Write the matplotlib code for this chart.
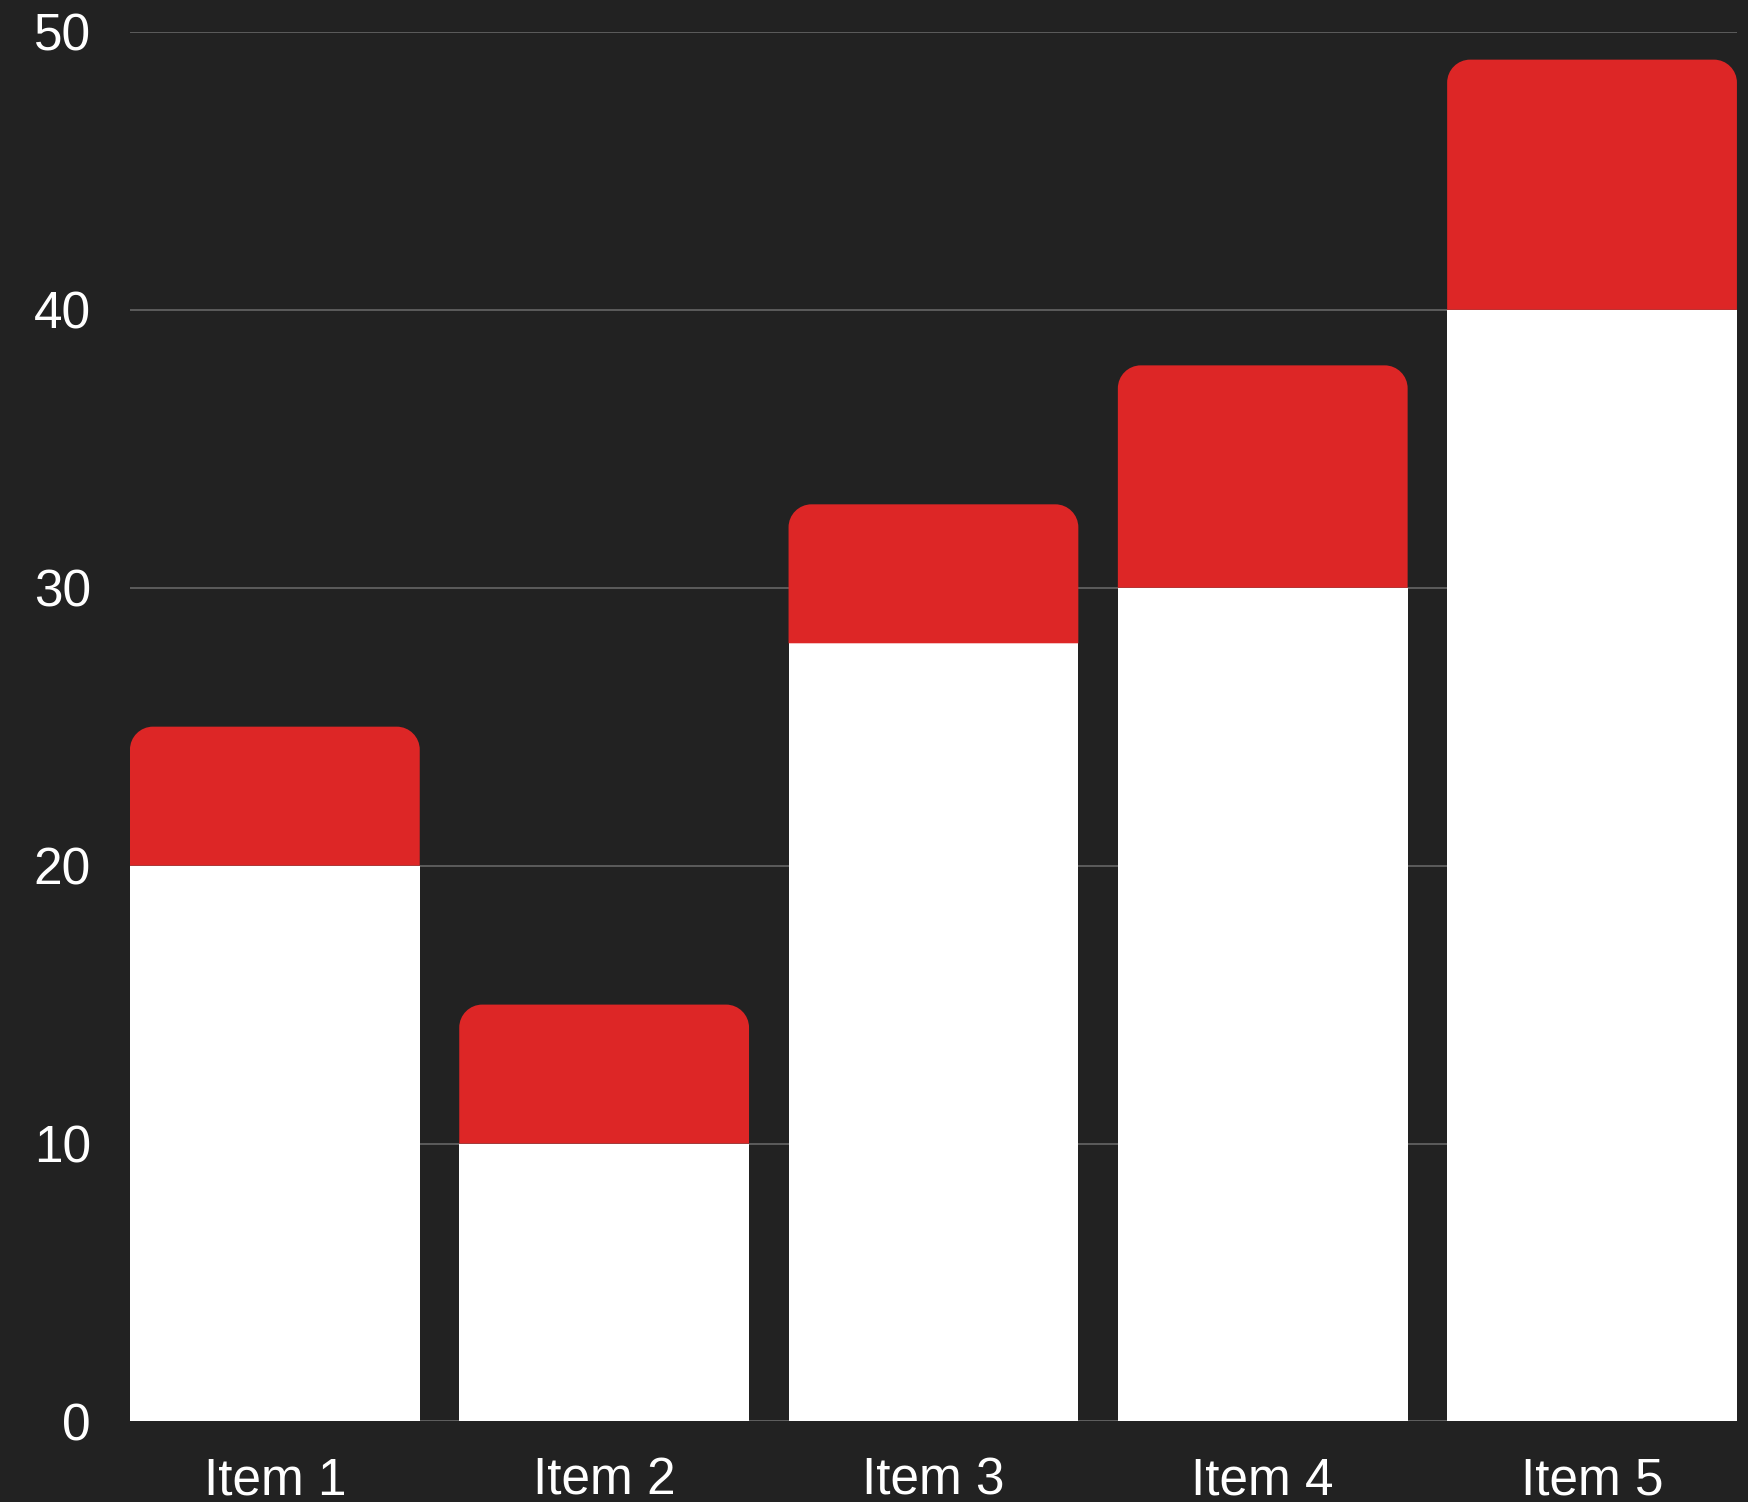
import matplotlib
matplotlib.use('Agg')
import matplotlib.pyplot as plt
from matplotlib.path import Path
from matplotlib.patches import PathPatch

# data
items = ["Item 1", "Item 2", "Item 3", "Item 4", "Item 5"]
baseValues = [20, 10, 28, 30, 40]
topValues = [5, 5, 5, 8, 9]
yTicks = [0, 10, 20, 30, 40, 50]

bgColor = "#222222"
redColor = "#dd2626"
gridColor = "#5c5c5c"

plt.rcParams['font.family'] = ['Liberation Sans', 'DejaVu Sans']

fig = plt.figure(figsize=(17.49, 15.02), dpi=100, facecolor=bgColor)
ax = fig.add_axes([0.0743, 0.0536, 0.9188, 0.9252], facecolor=bgColor)

x = list(range(len(items)))
barWidth = 0.88

ax.bar(x, baseValues, width=barWidth, color="white", zorder=3)
redBars = ax.bar(x, topValues, bottom=baseValues, width=barWidth, color=redColor, zorder=3)


def roundTop(rect, rx, ry):
	# rectangle with circular-looking top corners (cubic bezier)
	k = 0.5523
	x0, y0 = rect.get_x(), rect.get_y()
	x1, y1 = x0 + rect.get_width(), y0 + rect.get_height()
	verts = [(x0, y0), (x0, y1 - ry),
			(x0, y1 - ry + k * ry), (x0 + rx - k * rx, y1), (x0 + rx, y1),
			(x1 - rx, y1),
			(x1 - rx + k * rx, y1), (x1, y1 - ry + k * ry), (x1, y1 - ry),
			(x1, y0), (x0, y0)]
	codes = [Path.MOVETO, Path.LINETO,
			Path.CURVE4, Path.CURVE4, Path.CURVE4,
			Path.LINETO,
			Path.CURVE4, Path.CURVE4, Path.CURVE4,
			Path.LINETO, Path.CLOSEPOLY]
	return Path(verts, codes)


ax.set_xlim(-0.44, len(items) - 1 + 0.44)
ax.set_ylim(0, 50)

# corner radius ~23 px turned into data units
fig.canvas.draw()
bbox = ax.get_window_extent()
rx = 23 * (ax.get_xlim()[1] - ax.get_xlim()[0]) / bbox.width
ry = 23 * 50 / bbox.height
for rect in redBars:
	rect.set_visible(False)
	ax.add_patch(PathPatch(roundTop(rect, rx, ry), facecolor=redColor, edgecolor="none", zorder=3))

ax.set_yticks(yTicks)
ax.set_xticks(x)
ax.set_xticklabels(items)
ax.grid(axis="y", color=gridColor, linewidth=1.4, zorder=0)
ax.axhline(0, color="#aaaaaa", linewidth=1.4, zorder=1)
for side in ax.spines.values():
	side.set_visible(False)
ax.tick_params(axis="both", length=0, labelsize=37, labelcolor="white")
ax.tick_params(axis="y", pad=28)
ax.tick_params(axis="x", pad=25)

fig.savefig("out.png", dpi=100, facecolor=bgColor)
